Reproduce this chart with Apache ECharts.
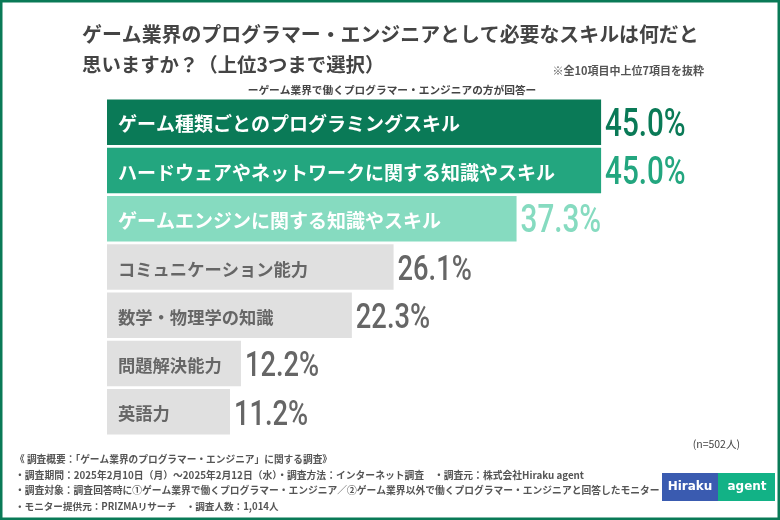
<!DOCTYPE html>
<html>
<head>
<meta charset="utf-8">
<style>
  html, body { margin: 0; padding: 0; background: #fff; }
  #main { width: 780px; height: 520px; }
</style>
<script src="https://cdn.jsdelivr.net/npm/echarts@6/dist/echarts.min.js"></script>
</head>
<body>
<div id="main"></div>
<script>
const categories = [
  'ゲーム種類ごとのプログラミングスキル',
  'ハードウェアやネットワークに関する知識やスキル',
  'ゲームエンジンに関する知識やスキル',
  'コミュニケーション能力',
  '数学・物理学の知識',
  '問題解決能力',
  '英語力'
]
const values = [45.0, 45.0, 37.3, 26.1, 22.3, 12.2, 11.2]
const barColors = ['#0a7a57', '#23a67f', '#86dbc0', '#e0e0e0', '#e0e0e0', '#e0e0e0', '#e0e0e0']
const nameColors = ['#fff', '#fff', '#fff', '#666', '#666', '#666', '#666']
const valueColors = ['#0a7a57', '#23a67f', '#86dbc0', '#666', '#666', '#666', '#666']
const titleLines = [
  'ゲーム業界のプログラマー・エンジニアとして必要なスキルは何だと',
  '思いますか？（上位3つまで選択）'
]
const noteLines = [
  '《 調査概要：「ゲーム業界のプログラマー・エンジニア」に関する調査》',
  '・調査期間：2025年2月10日（月）～2025年2月12日（水）・調査方法：インターネット調査　・調査元：株式会社Hiraku agent',
  '・調査対象：調査回答時に①ゲーム業界で働くプログラマー・エンジニア／②ゲーム業界以外で働くプログラマー・エンジニアと回答したモニター',
  '・モニター提供元：PRIZMAリサーチ　・調査人数：1,014人'
]
const noteY = [459, 475, 490, 506]
const noteSize = [9.7, 9.8, 9.77, 9.6]

const jp = '"Noto Sans CJK JP", sans-serif'

const text = (x, y, str, size, weight, fill, font, align) => ({
  type: 'text',
  x, y,
  silent: true,
  style: { text: str, fontSize: size, fontWeight: weight, fill, fontFamily: font || jp, align: align || 'left', verticalAlign: 'middle' }
})

// the percent figures are a condensed face in the original, none is installed so squeeze Roboto
const renderValue = (params, api) => {
  const i = api.value(1)
  const pos = api.coord([api.value(0), i])
  return {
    type: 'text',
    x: pos[0] + 4,
    y: pos[1] + 4,
    scaleX: 0.78,
    silent: true,
    style: {
      text: api.value(0).toFixed(1) + '%',
      fontFamily: 'Roboto, sans-serif',
      fontWeight: 500,
      fontSize: i < 3 ? 38 : 35,
      fill: valueColors[i],
      align: 'left',
      verticalAlign: 'middle'
    }
  }
}

const chart = echarts.init(document.getElementById('main'), null, { renderer: 'canvas' })

chart.setOption({
  animation: false,
  backgroundColor: '#fff',
  grid: { left: 107, top: 98, width: 658.8, height: 338 },
  xAxis: { type: 'value', min: 0, max: 60, show: false },
  yAxis: { type: 'category', inverse: true, data: categories, show: false },
  series: [
    {
      type: 'bar',
      barWidth: 45.5,
      data: values.map((v, i) => ({
        value: v,
        itemStyle: { color: barColors[i] },
        label: {
          formatter: categories[i],
          color: nameColors[i],
          fontSize: i < 3 ? 19 : 17.3,
          offset: [0, 2]
        }
      })),
      label: {
        show: true,
        position: 'insideLeft',
        distance: 11,
        fontFamily: jp,
        fontWeight: 'bold'
      }
    },
    {
      type: 'custom',
      renderItem: renderValue,
      encode: { x: 0, y: 1 },
      data: values.map((v, i) => [v, i])
    }
  ],
  graphic: [
    { type: 'rect', shape: { x: 1.25, y: 1.25, width: 777.5, height: 517.5 }, style: { fill: 'none', stroke: '#0a7a57', lineWidth: 2.5 }, silent: true },
    text(82, 34, titleLines[0], 19.9, 'bold', '#444'),
    text(82, 65, titleLines[1], 19.4, 'bold', '#444'),
    text(704, 71, '※全10項目中上位7項目を抜粋', 11, 'bold', '#555', jp, 'right'),
    text(392, 90, 'ーゲーム業界で働くプログラマー・エンジニアの方が回答ー', 10.7, 'bold', '#444', jp, 'center'),
    text(740, 444, '(n=502人)', 10.5, 'normal', '#444', jp, 'right'),
    ...noteLines.map((s, i) => text(15, noteY[i], s, noteSize[i], 'bold', '#555')),
    { type: 'rect', shape: { x: 662, y: 473, width: 56, height: 28 }, style: { fill: '#3a5bb0' }, silent: true },
    { type: 'rect', shape: { x: 718, y: 473, width: 57, height: 28 }, style: { fill: '#12b286' }, silent: true },
    text(690, 487, 'Hiraku', 12, 'bold', '#fff', '"DejaVu Sans", sans-serif', 'center'),
    text(747, 487, 'agent', 12, 'bold', '#fff', '"DejaVu Sans", sans-serif', 'center')
  ]
})
</script>
</body>
</html>
